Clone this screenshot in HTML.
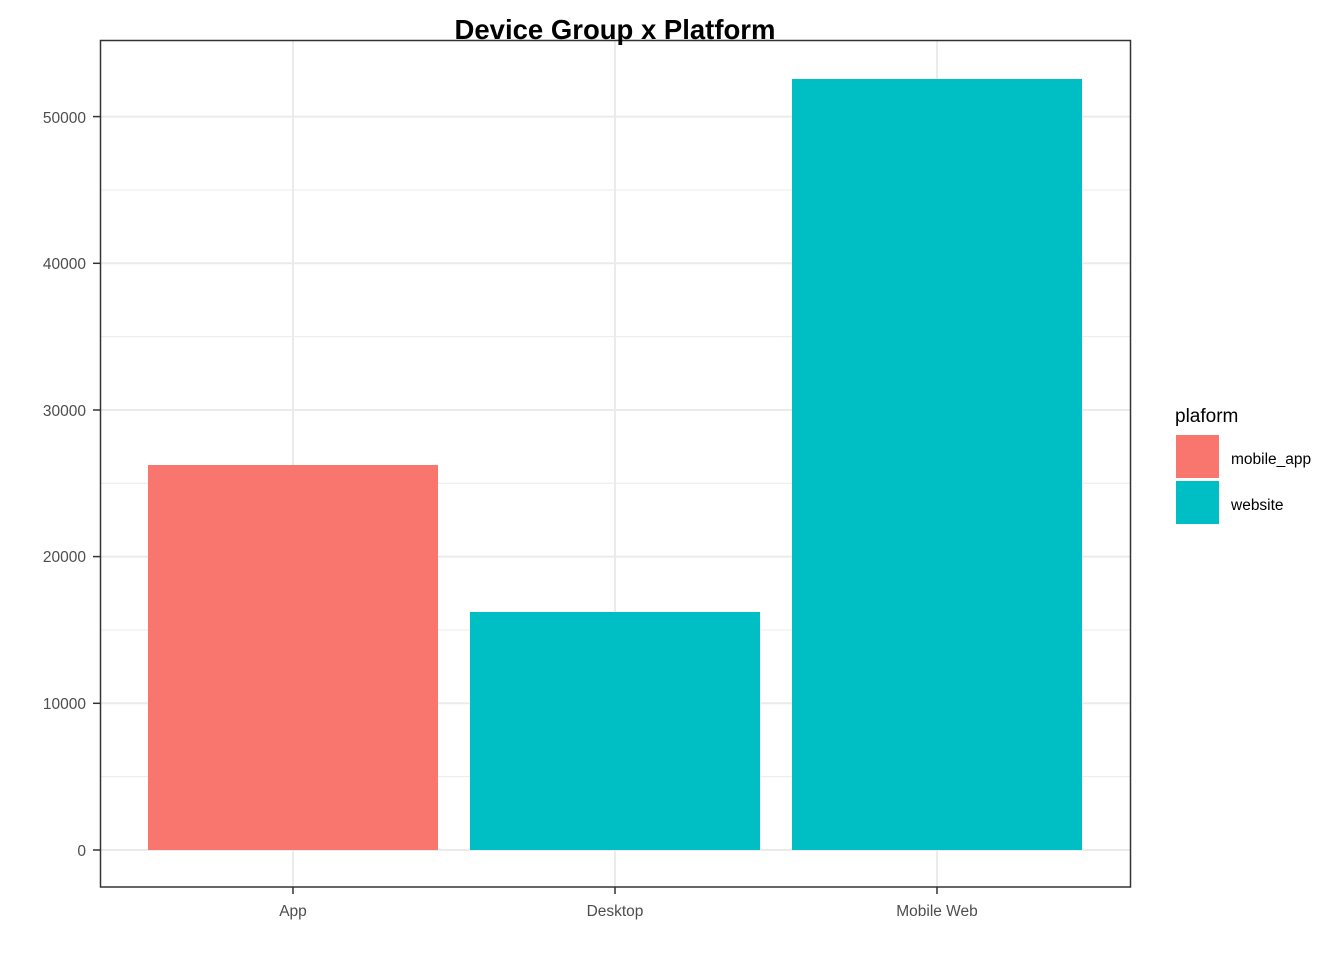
<!DOCTYPE html>
<html><head><meta charset="utf-8"><style>html,body{margin:0;padding:0;background:#fff}svg{display:block}</style></head>
<body>
<svg width="1344" height="960" xmlns="http://www.w3.org/2000/svg" font-family="Liberation Sans, Arial, sans-serif">
<rect width="1344" height="960" fill="#fff"/>
<g stroke="#ebebeb" stroke-width="1">
<line x1="100" x2="1131" y1="776.6" y2="776.6"/>
<line x1="100" x2="1131" y1="630" y2="630"/>
<line x1="100" x2="1131" y1="483.3" y2="483.3"/>
<line x1="100" x2="1131" y1="336.6" y2="336.6"/>
<line x1="100" x2="1131" y1="190" y2="190"/>
</g>
<g stroke="#ebebeb" stroke-width="2">
<line x1="100" x2="1131" y1="850" y2="850"/>
<line x1="100" x2="1131" y1="703.3" y2="703.3"/>
<line x1="100" x2="1131" y1="556.6" y2="556.6"/>
<line x1="100" x2="1131" y1="410" y2="410"/>
<line x1="100" x2="1131" y1="263.3" y2="263.3"/>
<line x1="100" x2="1131" y1="116.6" y2="116.6"/>
<line x1="293" x2="293" y1="40" y2="887"/>
<line x1="615" x2="615" y1="40" y2="887"/>
<line x1="937" x2="937" y1="40" y2="887"/>
</g>
<rect x="148" y="465" width="290" height="385" fill="#f8766d"/>
<rect x="470" y="612" width="290" height="238" fill="#00bfc4"/>
<rect x="792" y="79" width="290" height="771" fill="#00bfc4"/>
<rect x="100.5" y="40.5" width="1030" height="846.5" fill="none" stroke="#333" stroke-width="1.5"/>
<g stroke="#333" stroke-width="1.5">
<line x1="93" x2="100" y1="850" y2="850"/>
<line x1="93" x2="100" y1="703.3" y2="703.3"/>
<line x1="93" x2="100" y1="556.6" y2="556.6"/>
<line x1="93" x2="100" y1="410" y2="410"/>
<line x1="93" x2="100" y1="263.3" y2="263.3"/>
<line x1="93" x2="100" y1="116.6" y2="116.6"/>
<line x1="293" x2="293" y1="887" y2="894"/>
<line x1="615" x2="615" y1="887" y2="894"/>
<line x1="937" x2="937" y1="887" y2="894"/>
</g>
<g fill="#4d4d4d" font-size="15.5" text-anchor="end">
<text x="86" y="856">0</text>
<text x="86" y="709">10000</text>
<text x="86" y="562">20000</text>
<text x="86" y="416">30000</text>
<text x="86" y="269">40000</text>
<text x="86" y="123">50000</text>
</g>
<g fill="#4d4d4d" font-size="15.5" text-anchor="middle">
<text x="293" y="916">App</text>
<text x="615" y="916">Desktop</text>
<text x="937" y="916">Mobile Web</text>
</g>
<text x="615" y="39" text-anchor="middle" font-size="27.5" font-weight="bold" fill="#000">Device Group x Platform</text>
<text x="1175" y="422" font-size="19" fill="#000">plaform</text>
<rect x="1176" y="435" width="43" height="43" fill="#f8766d"/>
<rect x="1176" y="481" width="43" height="43" fill="#00bfc4"/>
<text x="1231" y="464" font-size="15.5" fill="#000">mobile_app</text>
<text x="1231" y="510" font-size="15.5" fill="#000">website</text>
</svg>
</body></html>
